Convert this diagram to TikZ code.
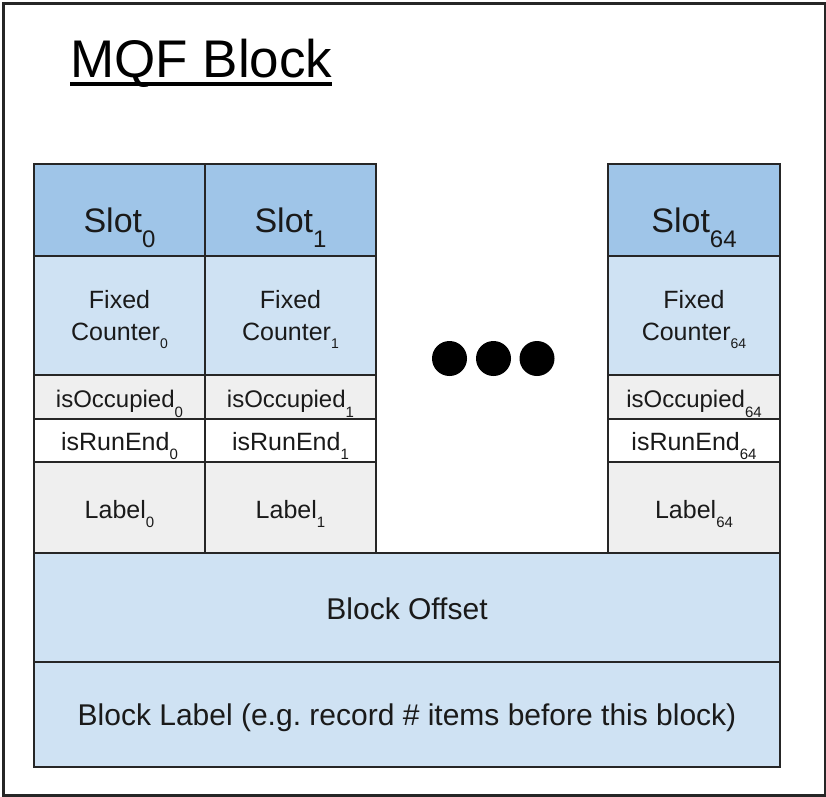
\documentclass[tikz,border=0pt]{standalone}
\usepackage{fontspec}
\setmainfont{Liberation Sans}
\definecolor{hdr}{HTML}{9FC5E8}
\definecolor{lb}{HTML}{CFE2F3}
\definecolor{lg}{HTML}{EFEFEF}
\definecolor{ln}{HTML}{262626}
\definecolor{tx}{HTML}{1A1A1A}
\newcommand{\fsz}[1]{\fontsize{#1}{#1}\selectfont}
\newcommand{\lowsub}[3]{\raisebox{-#1pt}{\fsz{#2}#3}}
\frenchspacing
\begin{document}
\begin{tikzpicture}[x=1pt,y=-1pt,
  cellbox/.style={draw=ln, line width=1.5pt, inner sep=0pt, outer sep=0pt, anchor=north west},
  txt/.style={anchor=base, inner sep=0pt, outer sep=0pt, text=tx},
  dotnode/.style={circle, fill=black, inner sep=0pt, minimum size=35pt}]
\useasboundingbox (0,0) rectangle (826,796);
\node[draw=ln, line width=2.5pt, inner sep=0pt, anchor=north west, minimum width=822pt, minimum height=792pt] (frame) at (2,2) {};

% title
\node[anchor=base west, inner sep=0pt, text=black] (title) at (70,77) {\fsz{53}MQF Block};
\draw[line width=3.5pt] ([yshift=-7pt]title.base west) -- ([yshift=-7pt]title.base east);

% column 0
\node[cellbox, fill=hdr, minimum width=171pt, minimum height=92pt] (h0) at (34,164) {};
\node[cellbox, fill=lb, minimum width=171pt, minimum height=119pt] (f0) at (34,256) {};
\node[cellbox, fill=lg, minimum width=171pt, minimum height=44pt] (o0) at (34,375) {};
\node[cellbox, fill=white, minimum width=171pt, minimum height=43pt] (r0) at (34,419) {};
\node[cellbox, fill=lg, minimum width=171pt, minimum height=91pt] (l0) at (34,462) {};
% column 1
\node[cellbox, fill=hdr, minimum width=171pt, minimum height=92pt] (h1) at (205,164) {};
\node[cellbox, fill=lb, minimum width=171pt, minimum height=119pt] (f1) at (205,256) {};
\node[cellbox, fill=lg, minimum width=171pt, minimum height=44pt] (o1) at (205,375) {};
\node[cellbox, fill=white, minimum width=171pt, minimum height=43pt] (r1) at (205,419) {};
\node[cellbox, fill=lg, minimum width=171pt, minimum height=91pt] (l1) at (205,462) {};
% column 64
\node[cellbox, fill=hdr, minimum width=172pt, minimum height=92pt] (h2) at (608,164) {};
\node[cellbox, fill=lb, minimum width=172pt, minimum height=119pt] (f2) at (608,256) {};
\node[cellbox, fill=lg, minimum width=172pt, minimum height=44pt] (o2) at (608,375) {};
\node[cellbox, fill=white, minimum width=172pt, minimum height=43pt] (r2) at (608,419) {};
\node[cellbox, fill=lg, minimum width=172pt, minimum height=91pt] (l2) at (608,462) {};
% bottom rows
\node[cellbox, fill=lb, minimum width=746pt, minimum height=109pt] (bo) at (34,553) {};
\node[cellbox, fill=lb, minimum width=746pt, minimum height=105pt] (bl) at (34,662) {};

% texts column 0
\node[txt] (th0) at (119.5,232) {\fsz{34}Slot\lowsub{15}{24}{0}};
\node[txt] (tf0a) at (119.5,308) {\fsz{25}Fixed};
\node[txt] (tf0b) at (119.5,340) {\fsz{25}Counter\lowsub{8}{14}{0}};
\node[txt] (to0) at (119.5,407) {\fsz{24}isOccupied\lowsub{10}{15}{0}};
\node[txt] (tr0) at (119.5,450) {\fsz{25}isRunEnd\lowsub{9}{15}{0}};
\node[txt] (tl0) at (119.5,518) {\fsz{25}Label\lowsub{9}{15}{0}};
% texts column 1
\node[txt] (th1) at (290.5,232) {\fsz{34}Slot\lowsub{15}{24}{1}};
\node[txt] (tf1a) at (290.5,308) {\fsz{25}Fixed};
\node[txt] (tf1b) at (290.5,340) {\fsz{25}Counter\lowsub{8}{14}{1}};
\node[txt] (to1) at (290.5,407) {\fsz{24}isOccupied\lowsub{10}{15}{1}};
\node[txt] (tr1) at (290.5,450) {\fsz{25}isRunEnd\lowsub{9}{15}{1}};
\node[txt] (tl1) at (290.5,518) {\fsz{25}Label\lowsub{9}{15}{1}};
% texts column 64
\node[txt] (th2) at (694,232) {\fsz{34}Slot\lowsub{15}{24}{64}};
\node[txt] (tf2a) at (694,308) {\fsz{25}Fixed};
\node[txt] (tf2b) at (694,340) {\fsz{25}Counter\lowsub{8}{14}{64}};
\node[txt] (to2) at (694,407) {\fsz{24}isOccupied\lowsub{10}{15}{64}};
\node[txt] (tr2) at (694,450) {\fsz{25}isRunEnd\lowsub{9}{15}{64}};
\node[txt] (tl2) at (694,518) {\fsz{25}Label\lowsub{9}{15}{64}};
% bottom texts
\node[txt] (tbo) at (407,619) {\fsz{30}Block Offset};
\node[txt] (tbl) at (407,725) {\fsz{30}Block Label (e.g. record \# items before this block)};

% dots
\node[dotnode] (d1) at (449.5,358.5) {};
\node[dotnode] (d2) at (493.5,358.5) {};
\node[dotnode] (d3) at (537,358.5) {};
\end{tikzpicture}
\end{document}
